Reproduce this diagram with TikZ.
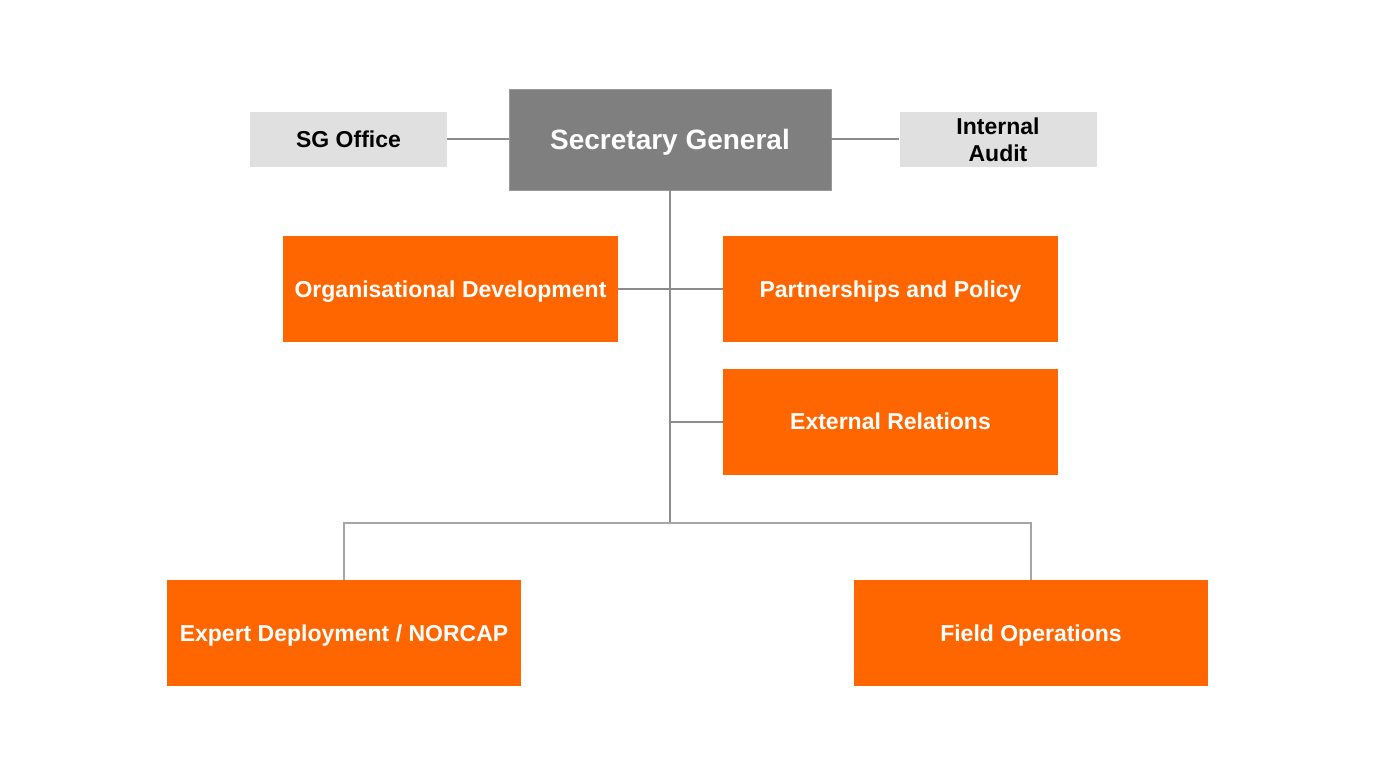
\documentclass[tikz,border=0pt]{standalone}
\usepackage{fontspec}
\setmainfont{Liberation Sans}
\usepackage{tikz}
\definecolor{myorange}{RGB}{255, 102, 0}
\definecolor{mygray}{RGB}{127, 127, 127}
\definecolor{mylightgray}{RGB}{224, 224, 224}
\definecolor{mylink}{RGB}{140, 140, 140}
\definecolor{mylinklight}{RGB}{166, 166, 166}
\begin{document}
\begin{tikzpicture}[x=0.5pt, y=-0.5pt]
                \useasboundingbox (0,0) rectangle (1400,764);
                \tikzstyle{unit}=[rectangle, minimum width=167.5pt, minimum height=53pt, inner sep=0pt, text depth=0pt, text centered, fill=myorange, text=white, font=\fontsize{11.5}{13.5}\selectfont\bfseries]
                \tikzstyle{staff}=[rectangle, minimum width=98.5pt, minimum height=27.5pt, inner sep=0pt, align=center, fill=mylightgray, text=black, font=\fontsize{11.5}{13.5}\selectfont\bfseries]
                \node[rectangle, minimum width=161pt, minimum height=50.5pt, inner sep=0pt, text depth=0pt, fill=mygray, draw=gray!80, text=white, font=\fontsize{14}{16}\selectfont\bfseries] (SG) at (670,139.5) {Secretary General};
                \node[staff] (SO) at (348.5,139.5) {SG Office};
                \node[staff] (IA) at (998,139.5) {Internal\\Audit};
                \node[unit] (OD) at (450.5,289) {Organisational Development};
                \node[unit] (PP) at (890.5,289) {Partnerships and Policy};
                \node[unit] (ER) at (890.5,421.5) {External Relations};
                \node[unit, minimum width=177pt] (ED) at (344,633) {Expert Deployment / NORCAP};
                \node[unit, minimum width=177pt] (FO) at (1031,633) {Field Operations};
                \coordinate (hub) at (670,523);

                \tikzstyle{link}=[draw=mylink, line width=1pt]
                \tikzstyle{linklight}=[draw=mylinklight, line width=1pt]

                \draw[link] (SO.east) -- (SG.west);
                \draw[link] (SG.east) -- (IA.west);
                \draw[link] (SG.south) -- (hub);
                \draw[link] (OD.east) -- (PP.west);
                \draw[link] (ER.west) -- (ER.west -| SG.south);
                \draw[linklight] (hub) -| (ED.north);
                \draw[linklight] (hub) -| (FO.north);
            \end{tikzpicture}
\end{document}
